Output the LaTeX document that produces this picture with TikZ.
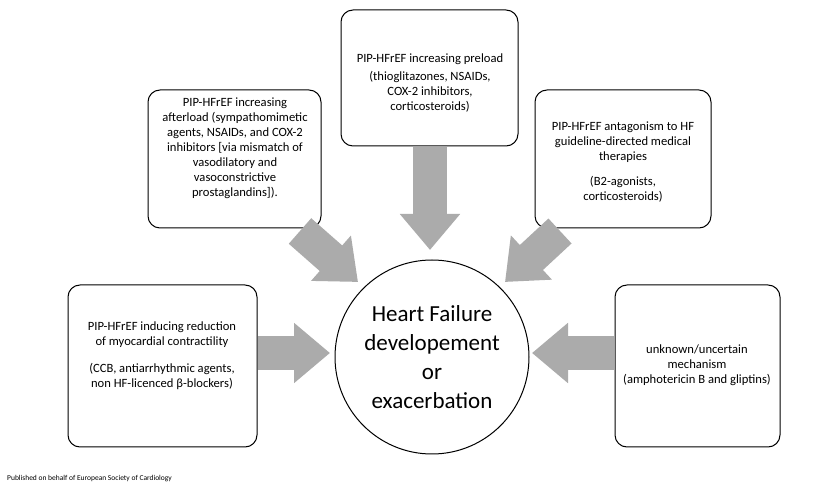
\documentclass[tikz,border=0pt]{standalone}
\usepackage{fontspec}
\setmainfont{Carlito}
\usetikzlibrary{arrows.meta}
\begin{document}
\begin{tikzpicture}[x=1pt,y=-1pt,
  box/.style={draw,rounded corners=12pt,line width=1pt},
  txt/.style={align=center,font=\fontsize{12.6}{15}\selectfont,inner sep=0pt},
  fat/.style={line width=34pt,color=black!33,-{Triangle[length=36pt,width=58pt]}}]
\useasboundingbox (0,0) rectangle (836,502);
\fill[white] (0,0) rectangle (836,502);
% boxes
\draw[box] (341,10) rectangle (518,146);
\draw[box] (148,90) rectangle (321,228);
\draw[box] (535,90) rectangle (711,228);
\draw[box] (68,285) rectangle (257,447);
\draw[box] (615,285) rectangle (780,447);
\node[draw,circle,minimum size=194pt,line width=1pt] (hf) at (432,357) {};
\node[txt,font=\fontsize{23}{29}\selectfont] at (432,357) {Heart Failure\\developement\\or\\exacerbation};
% texts
\node[txt] (tc) at (430,59) {PIP-HFrEF increasing preload};
\node[txt] at (430,92) {(thioglitazones, NSAIDs,\\COX-2 inhibitors,\\corticosteroids)};
\node[txt] (ul) at (235,148) {PIP-HFrEF increasing\\afterload (sympathomimetic\\agents, NSAIDs, and COX-2\\inhibitors [via mismatch of\\vasodilatory and\\vasoconstrictive\\prostaglandins]).};
\node[txt] (ur) at (623,142) {PIP-HFrEF antagonism to HF\\guideline-directed medical\\therapies};
\node[txt] at (623,189) {(B2-agonists,\\corticosteroids)};
\node[txt] (l) at (162,335) {PIP-HFrEF inducing reduction\\of myocardial contractility};
\node[txt] at (162,376) {(CCB, antiarrhythmic agents,\\non HF-licenced β-blockers)};
\node[txt] (r) at (697,365) {unknown/uncertain\\mechanism\\(amphotericin B and gliptins)};
\node[anchor=west,inner sep=0pt,font=\fontsize{7.5}{9}\selectfont] at (7,479) {Published on behalf of European Society of Cardiology};
% arrows
\coordinate (a1s) at (430,147); \coordinate (a1e) at (430,250);
\coordinate (a2s) at (300,231); \coordinate (a2e) at (358,282);
\coordinate (a3s) at (560,231); \coordinate (a3e) at (505,282);
\coordinate (a4s) at (258,353); \coordinate (a4e) at (330,353);
\coordinate (a5s) at (614,353); \coordinate (a5e) at (532,353);
\draw[fat] (a1s) -- (a1e);
\draw[fat] (a2s) -- (a2e);
\draw[fat] (a3s) -- (a3e);
\draw[fat] (a4s) -- (a4e);
\draw[fat] (a5s) -- (a5e);
\end{tikzpicture}
\end{document}
